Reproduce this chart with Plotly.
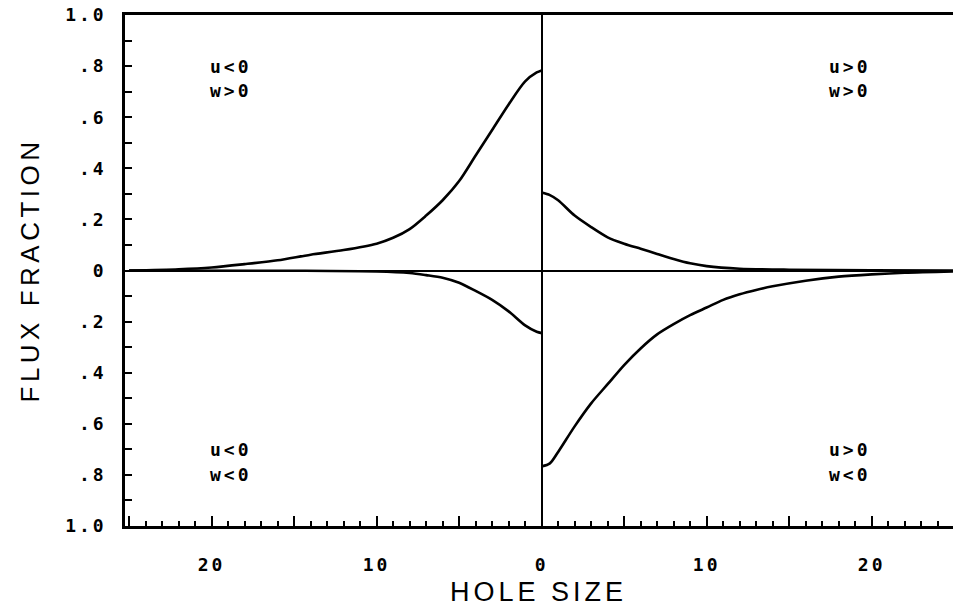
import plotly.graph_objects as go

# Upper-left quadrant: u<0, w>0
x_ul = [-25, -22, -20, -18, -16, -14, -12, -10, -9, -8, -7, -6, -5, -4, -3, -2, -1, -0.3, 0]
y_ul = [0.0, 0.005, 0.012, 0.025, 0.04, 0.062, 0.08, 0.105, 0.128, 0.162, 0.215, 0.275, 0.35, 0.45, 0.55, 0.65, 0.74, 0.775, 0.783]

# Upper-right quadrant: u>0, w>0
x_ur = [0, 0.5, 1, 2, 3, 4, 5, 6, 7, 8, 9, 10, 12, 15, 20, 25]
y_ur = [0.305, 0.295, 0.275, 0.215, 0.17, 0.13, 0.105, 0.085, 0.065, 0.045, 0.028, 0.017, 0.007, 0.003, 0.001, 0.0]

# Lower-left quadrant: u<0, w<0
x_ll = [-25, -15, -10, -8, -7, -6, -5, -4, -3, -2, -1, -0.3, 0]
y_ll = [0.0, -0.001, -0.004, -0.01, -0.018, -0.028, -0.048, -0.08, -0.115, -0.16, -0.215, -0.24, -0.245]

# Lower-right quadrant: u>0, w<0
x_lr = [0, 0.5, 1, 2, 3, 4, 5, 6, 7, 8, 9, 10, 11, 12, 13, 14, 16, 18, 20, 22, 25]
y_lr = [-0.767, -0.755, -0.71, -0.61, -0.52, -0.445, -0.37, -0.305, -0.25, -0.21, -0.175, -0.145, -0.115, -0.093, -0.076, -0.062, -0.04, -0.024, -0.015, -0.009, -0.004]

y_tickvals = [1.0, 0.8, 0.6, 0.4, 0.2, 0.0, -0.2, -0.4, -0.6, -0.8, -1.0]
y_ticktext = ["1.0", ".8", ".6", ".4", ".2", "0", ".2", ".4", ".6", ".8", "1.0"]
x_tickvals = [-25, -20, -15, -10, -5, 0, 5, 10, 15, 20, 25]
x_ticktext = ["", "20", "", "10", "", "0", "", "10", "", "20", ""]

quad_labels = [
    (-18.85, 0.80, "u<0"), (-18.85, 0.705, "w>0"),
    (18.7, 0.80, "u>0"), (18.7, 0.705, "w>0"),
    (-18.85, -0.70, "u<0"), (-18.85, -0.80, "w<0"),
    (18.7, -0.70, "u>0"), (18.7, -0.80, "w<0"),
]

MONO = "DejaVu Sans Mono"
SANS = "Liberation Sans"


def spaced(t, px):
    return '<span style="letter-spacing:%spx">%s</span>' % (px, t) if t else ""


fig = go.Figure()
line = dict(color="black", width=2.6)
for xs, ys, nm in [(x_ul, y_ul, "u<0, w>0"), (x_ur, y_ur, "u>0, w>0"),
                   (x_ll, y_ll, "u<0, w<0"), (x_lr, y_lr, "u>0, w<0")]:
    fig.add_trace(go.Scatter(x=xs, y=ys, mode="lines", line=line, name=nm,
                             line_shape="spline", line_smoothing=0.8, showlegend=False))

for x, y, t in quad_labels:
    fig.add_annotation(x=x, y=y, text=spaced(t, 3), showarrow=False, xanchor="center", yanchor="middle",
                       font=dict(family=MONO, size=18, color="black", weight="bold"))

fig.add_annotation(xref="paper", x=0, xshift=-96, y=0, yref="y",
                   text=spaced("FLUX FRACTION", 4.5),
                   textangle=-90, showarrow=False, xanchor="center", yanchor="middle",
                   font=dict(family=SANS, size=26, color="black"))
fig.add_annotation(x=-0.2, xref="x", yref="paper", y=0, yshift=-66,
                   text=spaced("HOLE SIZE", 4),
                   showarrow=False, xanchor="center", yanchor="middle",
                   font=dict(family=SANS, size=27, color="black"))

fig.update_layout(
    width=954, height=606,
    margin=dict(l=125, r=1, t=15, b=80),
    plot_bgcolor="white", paper_bgcolor="white",
)
fig.update_xaxes(
    range=[-25.25, 24.93], showgrid=False,
    zeroline=True, zerolinecolor="black", zerolinewidth=2,
    showline=True, linecolor="black", linewidth=2.5, mirror=True,
    ticks="inside", ticklen=10, tickwidth=2, tickcolor="black",
    tickvals=x_tickvals, ticktext=[spaced(t, 3) for t in x_ticktext], ticklabelstandoff=21,
    tickfont=dict(family=MONO, size=18, color="black", weight="bold"),
    minor=dict(ticks="inside", ticklen=5, tickwidth=2, tickcolor="black", dtick=1, showgrid=False),
)
fig.update_yaxes(
    range=[-1, 1], showgrid=False,
    zeroline=True, zerolinecolor="black", zerolinewidth=2,
    showline=True, linecolor="black", linewidth=2.5,
    ticks="inside", ticklen=7, tickwidth=2, tickcolor="black",
    tickvals=y_tickvals, ticktext=[spaced(t, 3) for t in y_ticktext], ticklabelstandoff=12,
    tickfont=dict(family=MONO, size=18, color="black", weight="bold"),
    minor=dict(ticks="inside", ticklen=7, tickwidth=2, tickcolor="black", dtick=0.1, showgrid=False),
)

fig.write_html("out.html")
